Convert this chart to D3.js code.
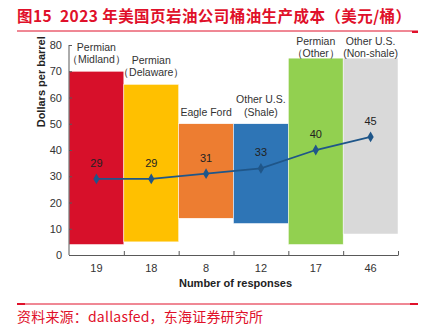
<!DOCTYPE html>
<html>
<head>
<meta charset="utf-8">
<script src="https://cdn.jsdelivr.net/npm/d3@7"></script>
<style>
  body { margin: 0; background: #fff; }
  svg { font-family: "Liberation Sans", Arial, sans-serif; }
</style>
</head>
<body>
<div id="chart"></div>
<script>
// data
var categories = ["Permian|（Midland）", "Permian|（Delaware）", "Eagle Ford", "Other U.S.|(Shale)", "Permian|（Other）", "Other U.S.|(Non-shale)"];
var responses = ["19", "18", "8", "12", "17", "46"];
var rangeLow = [4, 5, 14, 12, 4, 8];
var rangeHigh = [70, 65, 50, 50, 75, 75];
var avgCost = [29, 29, 31, 33, 40, 45];
var barColors = ["#d7102a", "#ffc000", "#ed7d31", "#2e75b6", "#92d050", "#d9d9d9"];
var yTicks = [0, 10, 20, 30, 40, 50, 60, 70, 80];

var W = 425, H = 328;
var margin = {top: 45, right: 27, bottom: 73, left: 69},
    width = W - margin.left - margin.right,
    height = H - margin.top - margin.bottom;

var root = d3.select("#chart").append("svg")
    .attr("width", W)
    .attr("height", H);

// title + rules
root.append("text")
    .attr("x", 17).attr("y", 22)
    .attr("fill", "#e0102a")
    .attr("font-family", "'Noto Sans CJK SC', sans-serif")
    .attr("font-weight", "bold")
    .attr("font-size", 15.5)
    .attr("textLength", 394)
    .attr("lengthAdjust", "spacing")
    .text("图15\u00a0\u00a02023\u00a0年美国页岩油公司桶油生产成本（美元/桶）");
root.append("line").attr("x1", 17).attr("x2", 418).attr("y1", 31).attr("y2", 31)
    .attr("stroke", "#e0102a").attr("stroke-width", 1);
root.append("rect").attr("x", 412).attr("y", 31).attr("width", 6).attr("height", 2).attr("fill", "#e0102a");

root.append("line").attr("x1", 17).attr("x2", 418).attr("y1", 304).attr("y2", 304)
    .attr("stroke", "#e0102a").attr("stroke-width", 1);
root.append("rect").attr("x", 17).attr("y", 303).attr("width", 8).attr("height", 2).attr("fill", "#e0102a");
root.append("rect").attr("x", 410).attr("y", 303).attr("width", 8).attr("height", 2).attr("fill", "#e0102a");
root.append("text")
    .attr("x", 17).attr("y", 322)
    .attr("fill", "#e0102a")
    .attr("font-family", "'Noto Sans CJK SC', sans-serif")
    .attr("font-size", 14)
    .attr("textLength", 246)
    .attr("lengthAdjust", "spacing")
    .text("资料来源：dallasfed，东海证券研究所");

var svg = root.append("g")
    .attr("transform", "translate(" + margin.left + "," + margin.top + ")");

var x = d3.scaleBand()
    .domain(d3.range(categories.length))
    .range([0, width])
    .padding(0);

var y = d3.scaleLinear()
    .domain([0, 80])
    .range([height, 0]);

// floating bars
svg.selectAll(".bar")
    .data(categories)
  .enter().append("rect")
    .attr("x", function(d, i) { return x(i); })
    .attr("width", x.bandwidth())
    .attr("y", function(d, i) { return y(rangeHigh[i]); })
    .attr("height", function(d, i) { return y(rangeLow[i]) - y(rangeHigh[i]); })
    .attr("fill", function(d, i) { return barColors[i]; })
    .attr("stroke", "#fff")
    .attr("stroke-width", 0.5);

// category labels above the bars
svg.selectAll(".cat")
    .data(categories)
  .enter().append("text")
    .attr("text-anchor", "middle")
    .attr("font-size", 10.5)
    .attr("fill", "#333")
    .each(function(d, i) {
      var lines = d.split("|");
      var base = Math.max(y(rangeHigh[i]) - 8, 12);
      var t = d3.select(this);
      lines.forEach(function(l, k) {
        t.append("tspan")
          .attr("x", x(i) + x.bandwidth() / 2)
          .attr("y", base - (lines.length - 1 - k) * 12.5)
          .text(l);
      });
    });

// axes
var yAxis = svg.append("g")
    .call(d3.axisLeft(y).tickValues(yTicks).tickSizeInner(-3).tickSizeOuter(-3).tickPadding(7));
var xAxis = svg.append("g")
    .attr("transform", "translate(0," + height + ")")
    .call(d3.axisBottom(d3.scaleLinear().domain([0, categories.length]).range([0, width]))
      .tickValues(d3.range(1, categories.length + 1)).tickSizeInner(-4).tickSizeOuter(0).tickFormat(""));
[yAxis, xAxis].forEach(function(a) {
  a.selectAll("path, line").attr("stroke", "#595959");
  a.selectAll("text").attr("font-size", 11).attr("fill", "#333");
});
yAxis.select(".domain").attr("d", "M0," + y(80) + "V" + height);

// response counts under each band
svg.selectAll(".resp")
    .data(responses)
  .enter().append("text")
    .attr("x", function(d, i) { return x(i) + x.bandwidth() / 2; })
    .attr("y", height + 17)
    .attr("text-anchor", "middle")
    .attr("font-size", 11)
    .attr("fill", "#333")
    .text(function(d) { return d; });

// axis titles
svg.append("text")
    .attr("x", width / 2 + 2)
    .attr("y", height + 32)
    .attr("text-anchor", "middle")
    .attr("font-size", 11)
    .attr("font-weight", "bold")
    .attr("fill", "#222")
    .text("Number of responses");
svg.append("text")
    .attr("transform", "translate(-24," + (y(66)) + ") rotate(-90)")
    .attr("text-anchor", "middle")
    .attr("font-size", 11)
    .attr("font-weight", "bold")
    .attr("fill", "#222")
    .text("Dollars per barrel");

// average cost line
var cx = function(i) { return x(i) + x.bandwidth() / 2; };
svg.append("path")
    .datum(avgCost)
    .attr("fill", "none")
    .attr("stroke", "#1f5689")
    .attr("stroke-width", 1.8)
    .attr("d", d3.line()
      .x(function(d, i) { return cx(i); })
      .y(function(d) { return y(d); }));

svg.selectAll(".pt")
    .data(avgCost)
  .enter().append("path")
    .attr("d", d3.symbol().type(d3.symbolDiamond).size(34))
    .attr("transform", function(d, i) { return "translate(" + cx(i) + "," + y(d) + ")"; })
    .attr("fill", "#1f5689");

svg.selectAll(".val")
    .data(avgCost)
  .enter().append("text")
    .attr("x", function(d, i) { return cx(i); })
    .attr("y", function(d) { return y(d) - 12; })
    .attr("text-anchor", "middle")
    .attr("font-size", 11)
    .attr("fill", "#222")
    .text(function(d) { return d; });
</script>
</body>
</html>
